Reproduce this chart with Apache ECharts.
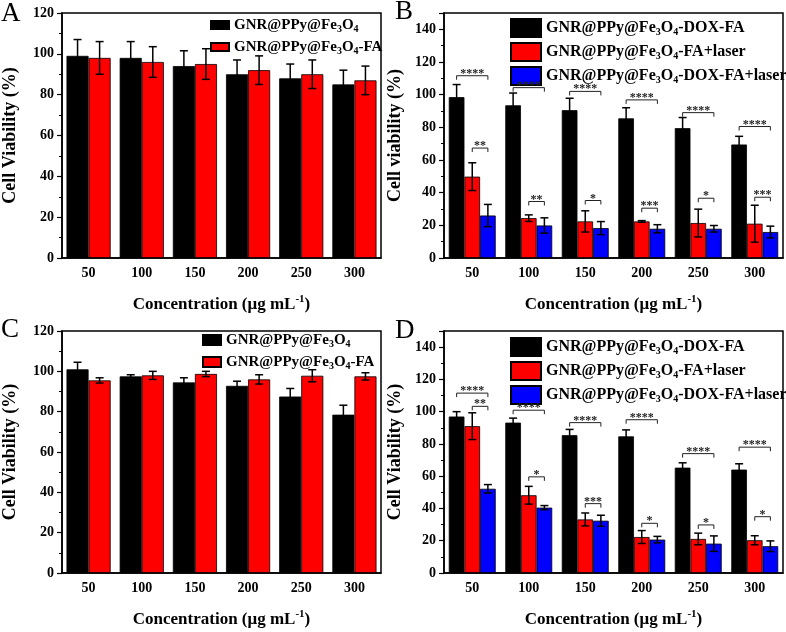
<!DOCTYPE html>
<html>
<head>
<meta charset="utf-8">
<script src="https://cdn.jsdelivr.net/npm/echarts@6/dist/echarts.min.js"></script>
<style>
  html, body { margin: 0; padding: 0; background: #fff; }
  #chart { width: 786px; height: 632px; }
</style>
</head>
<body>
<div id="chart"></div>
<script>
// ---- data ----
const categories = ['50', '100', '150', '200', '250', '300']

const nameFe = 'GNR@PPy@Fe3O4'
const nameFeFA = 'GNR@PPy@Fe3O4-FA'
const nameDoxFA = 'GNR@PPy@Fe3O4-DOX-FA'
const nameFALaser = 'GNR@PPy@Fe3O4-FA+laser'
const nameDoxFALaser = 'GNR@PPy@Fe3O4-DOX-FA+laser'

// panel A
const aBlack = [99, 98, 94, 90, 88, 85]
const aBlackErr = [8, 8, 7.5, 7, 7, 7]
const aRed = [98, 96, 95, 92, 90, 87]
const aRedErr = [8, 7.5, 7.5, 7, 7, 7]

// panel B
const bBlack = [98.5, 93.5, 90.5, 85.5, 79.5, 69.5]
const bBlackErr = [7.7, 7.5, 7.3, 6.5, 6.5, 5]
const bRed = [49.8, 24.4, 22.4, 22.4, 21.4, 21]
const bRedErr = [8.5, 2, 6.5, 0.5, 8.5, 11.3]
const bBlue = [26, 19.9, 18.3, 17.9, 17.9, 15.9]
const bBlueErr = [6.8, 4.7, 4, 2.5, 2, 3.6]
const bSigHigh = [111.6, 104.3, 102, 96.8, 89, 80.5]
const bSigHighLabel = ['****', '****', '****', '****', '****', '****']
const bSigLow = [67.3, 34.6, 35.2, 30.5, 36.6, 37.2]
const bSigLowLabel = ['**', '**', '*', '***', '*', '***']

// panel C
const cBlack = [101, 97.5, 94.5, 92.8, 87.5, 78.5]
const cBlackErr = [3.5, 0.8, 2.3, 2.3, 4, 4.7]
const cRed = [95.5, 98, 98.7, 96, 97.8, 97.5]
const cRedErr = [1.3, 2, 1.3, 2.3, 3, 1.8]

// panel D
const dBlack = [97, 93.2, 85.4, 84.7, 65.3, 64.1]
const dBlackErr = [3, 2.8, 3.6, 4, 3, 3.6]
const dRed = [91, 48.2, 33.2, 22.3, 21.1, 20.3]
const dRedErr = [8.3, 5.5, 4, 4, 3.6, 2.8]
const dBlue = [52.2, 40.5, 32.4, 20.7, 18.2, 16.6]
const dBlueErr = [2.6, 1.3, 3.4, 2, 4.8, 3.3]
const dSigHigh = [111.5, 100.9, 93.2, 95, 74, 78]
const dSigHighLabel = ['****', '****', '****', '****', '****', '****']
const dSigLow = [103.3, 59.6, 43, 30.8, 29.8, 34.9]
const dSigLowLabel = ['**', '*', '***', '*', '*', '*']

// ---- styling ----
const FONT = '"Liberation Serif", "Times New Roman", serif'
const GAP = 0.17
const BLACK = '#000000'
const RED = '#ff0000'
const BLUE = '#0000ff'

const grids = [
  { left: 54, top: 13, width: 327, height: 245 },
  { left: 444, top: 13, width: 339, height: 245 },
  { left: 57, top: 331, width: 324, height: 246 },
  { left: 444, top: 331, width: 339, height: 246 }
].map(g => ({ ...g, show: true, borderColor: '#000', borderWidth: 1.5, backgroundColor: 'transparent' }))

const yTitles = ['Cell Viability (%)', 'Cell viability (%)', 'Cell Viability (%)', 'Cell Viability (%)']
const yGaps = [43, 40, 43, 40]

const xAxes = []
const yAxes = []
for (let i = 0; i < 4; i++) {
  xAxes.push({
    gridIndex: i,
    type: 'category',
    data: categories,
    axisLine: { lineStyle: { color: '#000', width: 1.5 } },
    axisTick: { length: 4, lineStyle: { color: '#000', width: 1.2 } },
    axisLabel: { color: '#000', fontFamily: FONT, fontWeight: 'bold', fontSize: 14, margin: 8 },
    name: 'Concentration (μg mL{sup|-1})',
    nameLocation: 'middle',
    nameGap: 36,
    nameTextStyle: {
      color: '#000', fontFamily: FONT, fontWeight: 'bold', fontSize: 17, lineHeight: 22,
      rich: { sup: { fontFamily: FONT, fontWeight: 'bold', fontSize: 11, lineHeight: 11, verticalAlign: 'top', color: '#000' } }
    }
  })
  yAxes.push({
    gridIndex: i,
    type: 'value',
    min: 0,
    max: i % 2 ? 150 : 120,
    interval: 20,
    axisLine: { show: true, lineStyle: { color: '#000', width: 1.5 } },
    axisTick: { show: true, length: 5, lineStyle: { color: '#000', width: 1.2 } },
    minorTick: { show: true, splitNumber: 2, length: 3, lineStyle: { color: '#000', width: 1 } },
    splitLine: { show: false },
    axisLabel: { color: '#000', fontFamily: FONT, fontWeight: 'bold', fontSize: 14, margin: 8, showMaxLabel: !(i % 2) },
    name: yTitles[i],
    nameLocation: 'middle',
    nameGap: yGaps[i],
    nameTextStyle: { color: '#000', fontFamily: FONT, fontWeight: 'bold', fontSize: 18 }
  })
}
// extra x axes only to draw the ticks under each category
for (let i = 0; i < 4; i++) {
  xAxes.push({
    gridIndex: i,
    type: 'category',
    data: categories,
    axisLine: { show: false },
    axisLabel: { show: false },
    axisTick: { alignWithLabel: true, length: 4, lineStyle: { color: '#000', width: 1.2 } }
  })
}

function barSeries(panel, name, values, color) {
  return {
    name,
    type: 'bar',
    xAxisIndex: panel,
    yAxisIndex: panel,
    data: values,
    barGap: '0%',
    barCategoryGap: GAP * 100 + '%',
    itemStyle: { color, borderColor: '#000', borderWidth: 0.8 },
    emphasis: { disabled: true }
  }
}

function errorSeries(panel, values, errs, nBars, barIdx) {
  return {
    type: 'custom',
    xAxisIndex: panel,
    yAxisIndex: panel,
    z: 5,
    silent: true,
    data: values.map((v, k) => [k, v, errs[k]]),
    renderItem: (params, api) => {
      const v = api.value(1)
      const e = api.value(2)
      const top = api.coord([api.value(0), v + e])
      const bot = api.coord([api.value(0), v - e])
      const band = api.size([1, 0])[0]
      const total = band * (1 - GAP)
      const w = total / nBars
      const cx = top[0] - total / 2 + w * (barIdx + 0.5)
      const cap = 4
      const style = { stroke: '#000', lineWidth: 1.5 }
      return {
        type: 'group',
        children: [
          { type: 'line', shape: { x1: cx, y1: top[1], x2: cx, y2: bot[1] }, style },
          { type: 'line', shape: { x1: cx - cap, y1: top[1], x2: cx + cap, y2: top[1] }, style },
          { type: 'line', shape: { x1: cx - cap, y1: bot[1], x2: cx + cap, y2: bot[1] }, style }
        ]
      }
    }
  }
}

function sigSeries(panel, levels, labels, fromBar, toBar) {
  return {
    type: 'custom',
    xAxisIndex: panel,
    yAxisIndex: panel,
    z: 6,
    silent: true,
    data: levels.map((v, k) => [k, v]),
    renderItem: (params, api) => {
      const p = api.coord([api.value(0), api.value(1)])
      const band = api.size([1, 0])[0]
      const total = band * (1 - GAP)
      const w = total / 3
      const x1 = p[0] - total / 2 + w * (fromBar + 0.5)
      const x2 = p[0] - total / 2 + w * (toBar + 0.5)
      const y = p[1]
      return {
        type: 'group',
        children: [
          {
            type: 'polyline',
            shape: { points: [[x1, y + 4], [x1, y], [x2, y], [x2, y + 4]] },
            style: { stroke: '#222', lineWidth: 1, fill: 'none' }
          },
          {
            type: 'text',
            style: {
              text: labels[params.dataIndex], x: (x1 + x2) / 2, y: y + 4,
              align: 'center', verticalAlign: 'bottom',
              font: 'bold 12px ' + FONT, fill: '#222'
            }
          }
        ]
      }
    }
  }
}

const series = [
  // A
  barSeries(0, nameFe, aBlack, BLACK),
  barSeries(0, nameFeFA, aRed, RED),
  errorSeries(0, aBlack, aBlackErr, 2, 0),
  errorSeries(0, aRed, aRedErr, 2, 1),
  // B
  barSeries(1, nameDoxFA, bBlack, BLACK),
  barSeries(1, nameFALaser, bRed, RED),
  barSeries(1, nameDoxFALaser, bBlue, BLUE),
  errorSeries(1, bBlack, bBlackErr, 3, 0),
  errorSeries(1, bRed, bRedErr, 3, 1),
  errorSeries(1, bBlue, bBlueErr, 3, 2),
  sigSeries(1, bSigHigh, bSigHighLabel, 0, 2),
  sigSeries(1, bSigLow, bSigLowLabel, 1, 2),
  // C
  barSeries(2, nameFe, cBlack, BLACK),
  barSeries(2, nameFeFA, cRed, RED),
  errorSeries(2, cBlack, cBlackErr, 2, 0),
  errorSeries(2, cRed, cRedErr, 2, 1),
  // D
  barSeries(3, nameDoxFA, dBlack, BLACK),
  barSeries(3, nameFALaser, dRed, RED),
  barSeries(3, nameDoxFALaser, dBlue, BLUE),
  errorSeries(3, dBlack, dBlackErr, 3, 0),
  errorSeries(3, dRed, dRedErr, 3, 1),
  errorSeries(3, dBlue, dBlueErr, 3, 2),
  sigSeries(3, dSigHigh, dSigHighLabel, 0, 2),
  sigSeries(3, dSigLow, dSigLowLabel, 1, 2)
]

function legendFor(names, left, top, w, h, fontSize, lineHeight, gap) {
  return {
    orient: 'vertical',
    left, top,
    padding: 0,
    itemGap: gap,
    itemWidth: w,
    itemHeight: h,
    icon: 'rect',
    selectedMode: false,
    data: names,
    formatter: n => n.replace('Fe3O4', 'Fe{sub|3}O{sub|4}'),
    textStyle: {
      color: '#000', fontFamily: FONT, fontWeight: 'bold', fontSize, lineHeight,
      rich: { sub: { color: '#000', fontFamily: FONT, fontWeight: 'bold', fontSize: Math.round(fontSize * 0.65), lineHeight: Math.round(fontSize * 0.65), verticalAlign: 'bottom' } }
    }
  }
}

const letterFont = '27px ' + FONT
const option = {
  animation: false,
  backgroundColor: '#fff',
  grid: grids,
  xAxis: xAxes,
  yAxis: yAxes,
  legend: [
    legendFor([nameFe, nameFeFA], 210, 16, 18, 8, 15, 18, 4),
    legendFor([nameDoxFA, nameFALaser, nameDoxFALaser], 510, 18, 30, 18, 16, 19, 4),
    legendFor([nameFe, nameFeFA], 202, 331, 18, 10, 15, 18, 4),
    legendFor([nameDoxFA, nameFALaser, nameDoxFALaser], 510, 337, 30, 18, 16, 19, 4)
  ],
  graphic: [
    { type: 'text', left: 1, top: 0, style: { text: 'A', font: letterFont, fill: '#000' } },
    { type: 'text', left: 395, top: -2, style: { text: 'B', font: letterFont, fill: '#000' } },
    { type: 'text', left: 1, top: 316, style: { text: 'C', font: letterFont, fill: '#000' } },
    { type: 'text', left: 395, top: 317, style: { text: 'D', font: letterFont, fill: '#000' } }
  ],
  series
}

const myChart = echarts.init(document.getElementById('chart'))
myChart.setOption(option)
</script>
</body>
</html>
